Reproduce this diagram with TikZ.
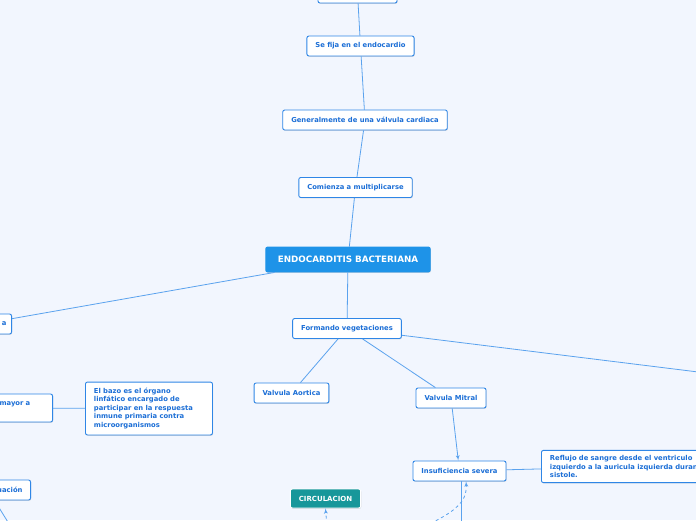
\documentclass[tikz,border=0pt]{standalone}
\usepackage{fontspec}
\setmainfont{DejaVu Sans}
\usepackage{tikz}
\usetikzlibrary{positioning,shapes,arrows,backgrounds,calc,shadows}
\definecolor{bgblue}{HTML}{F2F6FE}
\definecolor{boxline}{HTML}{2F86E6}
\definecolor{boxtext}{HTML}{1B6ED6}
\definecolor{edgeblue}{HTML}{5AA2EE}
\definecolor{mainblue}{HTML}{1E93E8}
\definecolor{circteal}{HTML}{17979A}
\tikzstyle{topic} = [rectangle, draw=boxline, line width=0.9pt, fill=white, %
   text=boxtext, rounded corners=2pt, minimum height=20pt, inner xsep=8.5pt, %
   font=\bfseries\fontsize{6.8}{8.5}\selectfont, %
   drop shadow={shadow xshift=0.6pt, shadow yshift=-0.8pt, opacity=0.25}]
\tikzstyle{central} = [topic, draw=mainblue, fill=mainblue, text=white, %
   minimum height=25pt, inner xsep=12pt, font=\bfseries\fontsize{8.8}{10}\selectfont]
\tikzstyle{floating} = [topic, draw=white, fill=circteal, text=white, %
   minimum height=19pt, font=\bfseries\fontsize{7}{8.5}\selectfont]
\tikzstyle{line} = [draw, edgeblue, line width=0.8pt]
\tikzstyle{arrowline} = [line, -latex']
\tikzstyle{relation} = [line, dashed, -latex']

\begin{document}
\begin{tikzpicture}[x=1pt, y=-1pt]
   \fill[bgblue] (0,0) rectangle (696,520);
   \useasboundingbox (0,0) rectangle (696,520);

   % Place nodes
   % MAIN SPINE %%%%%%%%%%%%%%%%%%%%%%%%%%%%%%%%%%%%%%%%%%%%%%%%%%
   \node[topic, minimum width=79pt] (topcut) at (357.5,-7) {};
   \node[topic] (fija) at (360.5,46) {Se fija en el endocardio};
   \node[topic] (valvula) at (365,120) {Generalmente de una válvula cardiaca};
   \node[topic] (multiplica) at (355.5,187.5) {Comienza a multiplicarse};
   \node[central] (endo) at (348,259.5) {ENDOCARDITIS BACTERIANA};
   \node[topic] (vegeta) at (347,328.5) {Formando vegetaciones};
   \node[topic] (aortica) at (291.5,393) {Valvula Aortica};
   \node[topic] (mitral) at (451,398) {Valvula Mitral};
   \node[topic] (insuf) at (459.5,471) {Insuficiencia severa};
   \node[topic, anchor=west, text width=170pt, align=left, inner ysep=5pt] (reflujo)
      at (541,466.5) {Reflujo de sangre desde el ventriculo\\%
      izquierdo a la auricula izquierda durante la\\sistole.};
   \node[floating] (circ) at (325.5,498.5) {CIRCULACION};

   % LEFT BRANCH %%%%%%%%%%%%%%%%%%%%%%%%%%%%%%%%%%%%%%%%%%%%%%%%%
   \node[topic, anchor=east, text width=50pt, align=right, inner xsep=5pt] (ramaizq)
      at (12,324) {a};
   \node[topic, anchor=east, text width=100pt, align=left, inner xsep=4pt,
      minimum height=28pt] (mayor) at (53,408) {\hspace*{51pt}mayor a\\\mbox{}};
   \node[topic, anchor=west, text width=110pt, align=left, inner ysep=6pt] (bazo)
      at (85,408.5) {El bazo es el órgano\\linfático encargado de\\%
      participar en la respuesta\\inmune primaria contra\\microorganismos};
   \node[topic, anchor=east, text width=56pt, align=right, inner xsep=8pt] (uacion)
      at (31,490) {uación};

   % Off-canvas ends
   \coordinate (derecha) at (900,397);
   \coordinate (insufhijo) at (461,560);
   \coordinate (uachijo) at (24,548);
   \coordinate (relorigen) at (370,550);

   % Draw edges
   % Main spine
   \path [line] (topcut) -- (fija);
   \path [line] (fija) -- (valvula);
   \path [line] (valvula) -- (multiplica);
   \path [line] (multiplica) -- (endo);
   \path [line] (endo) -- (vegeta);
   \path [line] (endo) -- (ramaizq);
   \path [line] (vegeta) -- (aortica);
   \path [line] (vegeta) -- (mitral);
   \path [line] (vegeta) -- (derecha);
   \path [arrowline] (mitral) -- (insuf);
   \path [line] (insuf) -- (reflujo);
   \path [line] (insuf.south -| insufhijo) -- (insufhijo);
   % Left side
   \path [line] (mayor) -- (bazo);
   \path [line] (uacion.south) -- (uachijo);
   % Relations
   \path [relation] (relorigen) .. controls (440,520) and (468,510) .. ([xshift=6.5pt]insuf.south);
   \path [relation] (relorigen) .. controls (328,540) .. (circ.south);
\end{tikzpicture}
\end{document}
